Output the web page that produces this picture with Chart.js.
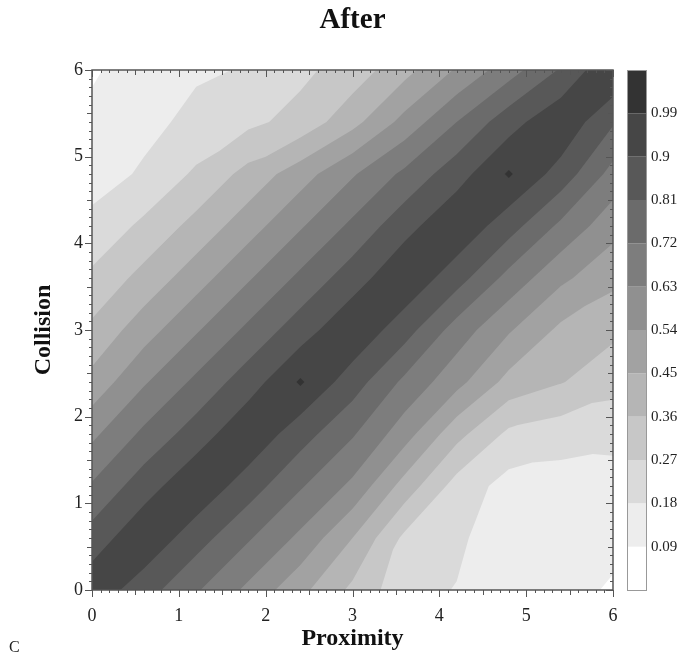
<!DOCTYPE html>
<html>
<head>
<meta charset="utf-8">
<script src="https://cdn.jsdelivr.net/npm/chart.js@4.4.1/dist/chart.umd.min.js"></script>
<style>
  html, body { margin: 0; padding: 0; background: #fff; }
  #wrap { width: 679px; height: 657px; position: relative; }
</style>
</head>
<body>
<div id="wrap"><canvas id="chart"></canvas></div>
<script>
// sample grid (Proximity on x, Collision on y)
const gridX = [0, 0.6, 1.2, 1.8, 2.4, 3.0, 3.6, 4.2, 4.8, 5.4, 6.0];
const gridY = [0, 0.6, 1.2, 1.8, 2.4, 3.0, 3.6, 4.2, 4.8, 5.4, 6.0];

// surface values, one array per Collision row
const zY00 = [0.96, 0.85, 0.73, 0.61, 0.475, 0.34, 0.21, 0.176, 0.15, 0.12, 0.08];
const zY06 = [0.85, 0.97, 0.85, 0.73, 0.61, 0.45, 0.25, 0.20, 0.114, 0.13, 0.113];
const zY12 = [0.73, 0.86, 0.97, 0.855, 0.73, 0.61, 0.414, 0.233, 0.147, 0.14, 0.145];
const zY18 = [0.61, 0.74, 0.855, 0.97, 0.85, 0.73, 0.58, 0.39, 0.25, 0.22, 0.205];
const zY24 = [0.48, 0.62, 0.74, 0.86, 0.985, 0.855, 0.70, 0.57, 0.42, 0.365, 0.304];
const zY30 = [0.38, 0.50, 0.62, 0.74, 0.86, 0.97, 0.85, 0.68, 0.55, 0.43, 0.379];
const zY36 = [0.29, 0.39, 0.50, 0.62, 0.74, 0.86, 0.97, 0.85, 0.69, 0.56, 0.474];
const zY42 = [0.20, 0.291, 0.39, 0.50, 0.62, 0.74, 0.87, 0.97, 0.85, 0.70, 0.573];
const zY48 = [0.15, 0.189, 0.286, 0.39, 0.50, 0.62, 0.74, 0.865, 0.985, 0.865, 0.687];
const zY54 = [0.12, 0.162, 0.197, 0.25, 0.30, 0.42, 0.57, 0.72, 0.865, 0.97, 0.82];
const zY60 = [0.075, 0.15, 0.172, 0.184, 0.25, 0.31, 0.42, 0.55, 0.68, 0.82, 0.985];
const zRows = [zY00, zY06, zY12, zY18, zY24, zY30, zY36, zY42, zY48, zY54, zY60];

// the two spots where the surface goes above 0.99
const peakX = [2.4, 4.8];
const peakY = [2.4, 4.8];

// contour levels (also the colour bar tick labels)
const levels = [0.09, 0.18, 0.27, 0.36, 0.45, 0.54, 0.63, 0.72, 0.81, 0.9, 0.99];
const barMin = 0, barMax = 1.08;
const axisTicks = [0, 1, 2, 3, 4, 5, 6];

const bandColors = ['#ffffff', '#ededed', '#dadada', '#c7c7c7', '#b5b5b5', '#a2a2a2',
                    '#909090', '#7d7d7d', '#6b6b6b', '#585858', '#464646', '#333333'];
const serif = '"Liberation Serif", "Times New Roman", serif';

const points = [];
gridY.forEach((y, j) => gridX.forEach((x, i) => points.push({ x, y, z: zRows[j][i] })));
const peaks = peakX.map((x, i) => ({ x, y: peakY[i] }));

// keep the part of a polygon where z >= lv (z is linear on a triangle)
function clipAbove(poly, lv) {
  const out = [];
  for (let k = 0; k < poly.length; k++) {
    const p = poly[k], q = poly[(k + 1) % poly.length];
    const pin = p.z >= lv, qin = q.z >= lv;
    if (pin) out.push(p);
    if (pin !== qin) {
      const t = (lv - p.z) / (q.z - p.z);
      out.push({ x: p.x + t * (q.x - p.x), y: p.y + t * (q.y - p.y), z: lv });
    }
  }
  return out;
}

const contourFill = {
  id: 'contourFill',
  beforeDatasetsDraw(chart) {
    const { ctx, chartArea: a, scales: { x, y } } = chart;
    const data = chart.data.datasets[1].data;
    const nx = gridX.length, ny = gridY.length;
    const P = (i, j) => data[j * nx + i];
    ctx.save();
    ctx.beginPath();
    ctx.rect(a.left, a.top, a.right - a.left, a.bottom - a.top);
    ctx.clip();
    ctx.fillStyle = bandColors[0];
    ctx.fillRect(a.left, a.top, a.right - a.left, a.bottom - a.top);
    levels.forEach((lv, k) => {
      ctx.beginPath();
      for (let j = 0; j < ny - 1; j++) {
        for (let i = 0; i < nx - 1; i++) {
          const tris = [
            [P(i, j), P(i + 1, j), P(i + 1, j + 1)],
            [P(i, j), P(i + 1, j + 1), P(i, j + 1)]
          ];
          tris.forEach(tri => {
            const poly = clipAbove(tri, lv);
            if (poly.length < 3) return;
            poly.forEach((p, n) => {
              const px = x.getPixelForValue(p.x), py = y.getPixelForValue(p.y);
              if (n === 0) ctx.moveTo(px, py); else ctx.lineTo(px, py);
            });
            ctx.closePath();
          });
        }
      }
      ctx.fillStyle = bandColors[k + 1];
      ctx.fill();
    });
    ctx.restore();
  },
  afterDatasetsDraw(chart) {
    const { ctx, chartArea: a, scales: { x, y, cb } } = chart;
    ctx.save();
    // colour bar
    const bx = cb.left + 14, bw = 19;
    const edges = [barMin, ...levels, barMax];
    for (let k = 0; k < edges.length - 1; k++) {
      const y0 = cb.getPixelForValue(edges[k]), y1 = cb.getPixelForValue(edges[k + 1]);
      ctx.fillStyle = bandColors[k];
      ctx.fillRect(bx, y1, bw, y0 - y1);
    }
    ctx.strokeStyle = '#999';
    ctx.lineWidth = 1;
    ctx.strokeRect(bx + 0.5, cb.top + 0.5, bw, cb.bottom - cb.top);

    // frame with minor ticks (out on left/bottom, in on top/right)
    ctx.strokeStyle = '#555';
    ctx.lineWidth = 1;
    ctx.beginPath();
    for (let k = 0; k <= 60; k++) {
      const v = k / 10;
      const len = k % 10 === 0 ? 7 : (k % 5 === 0 ? 5 : 3);
      const px = Math.round(x.getPixelForValue(v)) + 0.5;
      const py = Math.round(y.getPixelForValue(v)) + 0.5;
      ctx.moveTo(px, a.bottom); ctx.lineTo(px, a.bottom + len);
      ctx.moveTo(px, a.top); ctx.lineTo(px, a.top + len);
      ctx.moveTo(a.left - len, py); ctx.lineTo(a.left, py);
      ctx.moveTo(a.right - len, py); ctx.lineTo(a.right, py);
    }
    ctx.stroke();
    ctx.lineWidth = 1.5;
    ctx.strokeRect(a.left, a.top, a.right - a.left, a.bottom - a.top);

    ctx.fillStyle = '#222';
    ctx.font = '16px ' + serif;
    ctx.textBaseline = 'alphabetic';
    ctx.fillText('C', 9, 652);
    ctx.restore();
  }
};

new Chart(document.getElementById('chart'), {
  type: 'scatter',
  data: {
    datasets: [{
      label: 'above 0.99',
      data: peaks,
      pointStyle: 'rectRot',
      pointRadius: 4,
      pointHoverRadius: 4,
      backgroundColor: bandColors[11],
      borderColor: bandColors[11],
      borderWidth: 0
    }, {
      label: 'After',
      data: points,
      pointRadius: 0,
      pointHoverRadius: 0,
      showLine: false
    }]
  },
  options: {
    responsive: true,
    maintainAspectRatio: false,
    animation: false,
    events: [],
    layout: { padding: 0 },
    plugins: {
      legend: { display: false },
      tooltip: { enabled: false },
      title: {
        display: true,
        text: 'After',
        fullSize: false,
        color: '#111',
        font: { family: serif, size: 29, weight: 'bold' },
        padding: { top: 3, bottom: 32.2 }
      }
    },
    scales: {
      x: {
        type: 'linear', position: 'bottom', min: 0, max: 6,
        afterBuildTicks: s => { s.ticks = axisTicks.map(v => ({ value: v })); },
        afterFit: s => { s.height = 67; },
        grid: { display: false, drawTicks: false },
        border: { display: false },
        ticks: { color: '#222', padding: 15, maxRotation: 0, font: { family: serif, size: 18 } },
        title: { display: true, text: 'Proximity', color: '#111',
                 font: { family: serif, size: 24, weight: 'bold' }, padding: { top: 0, bottom: 4 } }
      },
      y: {
        type: 'linear', position: 'left', min: 0, max: 6,
        afterBuildTicks: s => { s.ticks = axisTicks.map(v => ({ value: v })); },
        afterFit: s => { s.width = 92; },
        grid: { display: false, drawTicks: false },
        border: { display: false },
        ticks: { color: '#222', padding: 9, font: { family: serif, size: 18 } },
        title: { display: true, text: 'Collision', color: '#111',
                 font: { family: serif, size: 24, weight: 'bold' }, padding: { top: 29.6, bottom: 0 } }
      },
      cb: {
        type: 'linear', axis: 'y', position: 'right', min: barMin, max: barMax,
        afterBuildTicks: s => { s.ticks = levels.map(v => ({ value: v })); },
        afterFit: s => { s.width = 66; },
        grid: { display: false, drawTicks: false },
        border: { display: false },
        ticks: { color: '#222', padding: 38, font: { family: serif, size: 15 },
                 callback: v => String(Number(v.toFixed(2))) }
      }
    }
  },
  plugins: [contourFill]
});
</script>
</body>
</html>
